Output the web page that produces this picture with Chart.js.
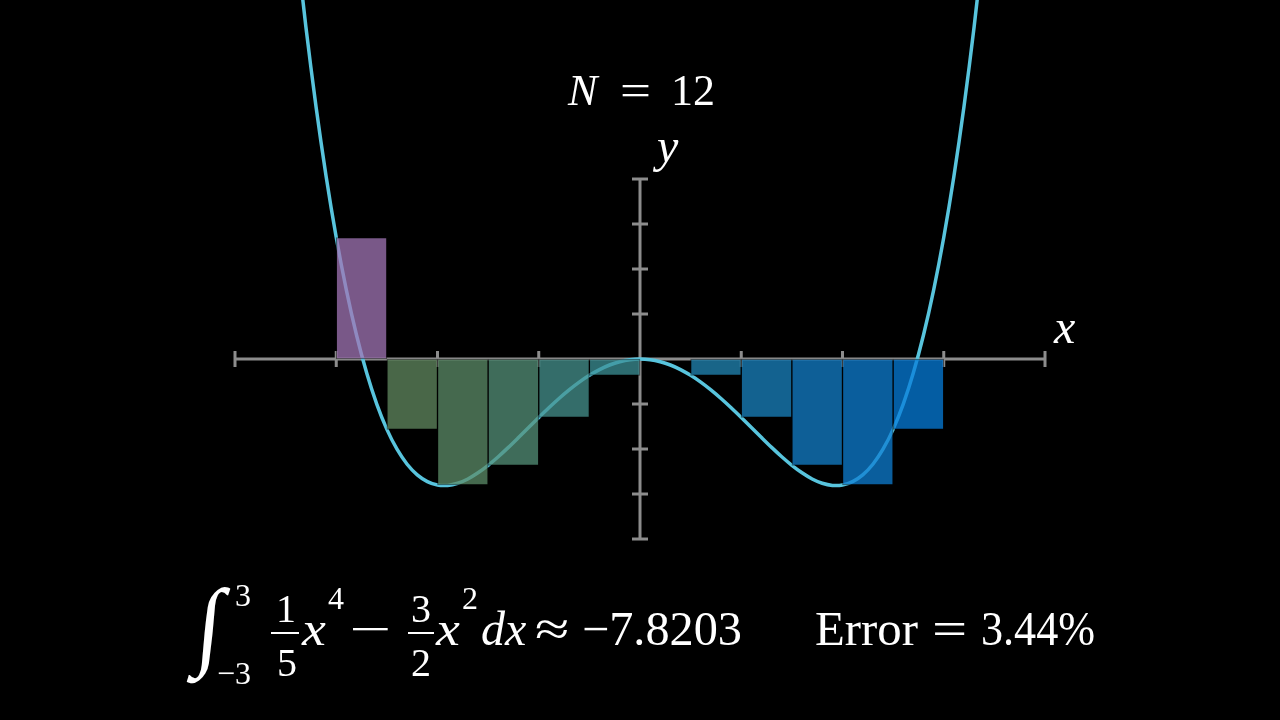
<!DOCTYPE html>
<html>
<head>
<meta charset="utf-8">
<script src="https://cdn.jsdelivr.net/npm/chart.js@4.4.1/dist/chart.umd.min.js"></script>
<style>
  html, body { margin: 0; padding: 0; background: #000; }
  #wrap { position: relative; width: 1280px; height: 720px; overflow: hidden; background: #000; }
  #chart { position: absolute; left: 0; top: 0; }
  #labels { position: absolute; left: 0; top: 0; }
  #labels text { fill: #fff; font-family: 'Liberation Serif', 'Times New Roman', serif; }
  #labels .it { font-style: italic; }
</style>
</head>
<body>
<div id="wrap">
  <canvas id="chart" width="1280" height="720"></canvas>
  <svg id="labels" width="1280" height="720">
    <!-- title -->
    <text class="it" x="568" y="105" font-size="44">N</text>
    <text transform="translate(620,105) scale(1.25,1)" font-size="44">=</text>
    <text x="671" y="105" font-size="44">12</text>

    <!-- axis labels -->
    <text class="it" x="657" y="162" font-size="48">y</text>
    <text class="it" x="1054" y="343" font-size="48">x</text>

    <!-- integral formula -->
    <text transform="translate(194,657) scale(0.95,1.02) skewX(-6)" font-size="96">∫</text>
    <text x="235" y="606" font-size="32">3</text>
    <text x="217" y="684" font-size="32">−3</text>

    <text x="286" y="622" font-size="40" text-anchor="middle">1</text>
    <line x1="271" x2="299" y1="633" y2="633" stroke="#fff" stroke-width="2"/>
    <text x="287" y="676" font-size="40" text-anchor="middle">5</text>
    <text class="it" transform="translate(302,645) scale(1.12,1)" font-size="48">x</text>
    <text x="328" y="609" font-size="32">4</text>
    <text transform="translate(349,645) scale(1.55,1)" font-size="48">−</text>

    <text x="421" y="622" font-size="40" text-anchor="middle">3</text>
    <line x1="408" x2="434" y1="633" y2="633" stroke="#fff" stroke-width="2"/>
    <text x="421" y="676" font-size="40" text-anchor="middle">2</text>
    <text class="it" transform="translate(436,645) scale(1.12,1)" font-size="48">x</text>
    <text x="462" y="609" font-size="32">2</text>
    <text class="it" x="481" y="645" font-size="48">dx</text>
    <text transform="translate(535,645) scale(1.3,1)" font-size="48">≈</text>
    <text x="582" y="645" font-size="48" textLength="160" lengthAdjust="spacingAndGlyphs">−7.8203</text>

    <text x="815" y="645" font-size="48" textLength="103" lengthAdjust="spacingAndGlyphs">Error</text>
    <text transform="translate(932,645) scale(1.3,1)" font-size="48">=</text>
    <text x="981" y="645" font-size="48" textLength="114" lengthAdjust="spacingAndGlyphs">3.44%</text>
  </svg>
</div>
<script>
// Riemann sum, left endpoints, N = 12 on [-3, 3]
const rectLeft = [-3, -2.5, -2, -1.5, -1, -0.5, 0, 0.5, 1, 1.5, 2, 2.5];
const rectWidth = 0.5;
const rectHeight = [2.7, -1.5625, -2.8, -2.3625, -1.3, -0.3625, 0, -0.3625, -1.3, -2.3625, -2.8, -1.5625];
const rectColors = [
  'rgba(162, 118, 182, 0.75)',
  'rgba(98, 138, 96, 0.75)',
  'rgba(92, 140, 104, 0.75)',
  'rgba(84, 144, 120, 0.75)',
  'rgba(70, 146, 142, 0.75)',
  'rgba(60, 144, 150, 0.75)',
  'rgba(40, 139, 178, 0.75)',
  'rgba(34, 135, 182, 0.75)',
  'rgba(26, 131, 192, 0.75)',
  'rgba(19, 127, 201, 0.75)',
  'rgba(13, 125, 209, 0.75)',
  'rgba(5, 124, 218, 0.75)'
];

const curveX = [
  -3.4, -3.3, -3.2, -3.1, -3.0, -2.9, -2.8, -2.7, -2.6, -2.5, -2.4, -2.3, -2.2, -2.1, -2.0, -1.9, -1.8,
  -1.7, -1.6, -1.5, -1.4, -1.3, -1.2, -1.1, -1.0, -0.9, -0.8, -0.7, -0.6, -0.5, -0.4, -0.3, -0.2, -0.1,
  0,
  0.1, 0.2, 0.3, 0.4, 0.5, 0.6, 0.7, 0.8, 0.9, 1.0, 1.1, 1.2, 1.3, 1.4, 1.5, 1.6, 1.7,
  1.8, 1.9, 2.0, 2.1, 2.2, 2.3, 2.4, 2.5, 2.6, 2.7, 2.8, 2.9, 3.0, 3.1, 3.2, 3.3, 3.4
];
const curveY = [
  9.387, 7.383, 5.612, 4.055, 2.7, 1.531, 0.533, -0.306, -1.001, -1.563, -2.005, -2.338, -2.575, -2.725, -2.8, -2.809, -2.761,
  -2.665, -2.529, -2.363, -2.172, -1.964, -1.745, -1.522, -1.3, -1.084, -0.878, -0.687, -0.514, -0.363, -0.235, -0.133, -0.060, -0.015,
  0,
  -0.015, -0.060, -0.133, -0.235, -0.363, -0.514, -0.687, -0.878, -1.084, -1.3, -1.522, -1.745, -1.964, -2.172, -2.363, -2.529, -2.665,
  -2.761, -2.809, -2.8, -2.725, -2.575, -2.338, -2.005, -1.563, -1.001, -0.306, 0.533, 1.531, 2.7, 4.055, 5.612, 7.383, 9.387
];

// axes
const axisMin = -4;
const axisMax = 4;
const xTicks = [-4, -3, -2, -1, 1, 2, 3, 4];
const yTicks = [-4, -3, -2, -1, 1, 2, 3, 4];

// visible window (origin at 640,359; 101.25 px per x unit, 45 px per y unit)
const viewX = [-6.321, 6.321];
const viewY = [-8.022, 7.978];

const axisGrey = '#8c8c8c';

const ctx = document.getElementById('chart').getContext('2d');

new Chart(ctx, {
  type: 'scatter',
  data: {
    datasets: [
      {
        type: 'bar',
        label: 'rects',
        data: rectLeft.map((x, i) => ({ x: x + rectWidth / 2, y: rectHeight[i] })),
        backgroundColor: rectColors,
        borderColor: 'rgba(0, 0, 0, 0.5)',
        borderWidth: 1,
        borderSkipped: false,
        barPercentage: 1,
        categoryPercentage: 1,
        order: 0
      },
      {
        type: 'line',
        label: 'curve',
        data: curveX.map((x, i) => ({ x, y: curveY[i] })),
        borderColor: '#58c4dd',
        borderWidth: 3.5,
        pointRadius: 0,
        tension: 0.3,
        fill: false,
        order: 1
      },
      {
        type: 'line',
        label: 'x axis',
        data: [{ x: axisMin, y: 0 }, { x: axisMax, y: 0 }],
        borderColor: axisGrey,
        borderWidth: 3,
        pointRadius: 0,
        order: 2
      },
      {
        type: 'line',
        label: 'y axis',
        data: [{ x: 0, y: axisMin }, { x: 0, y: axisMax }],
        borderColor: axisGrey,
        borderWidth: 3,
        pointRadius: 0,
        order: 2
      },
      {
        label: 'x ticks',
        data: xTicks.map(x => ({ x, y: 0 })),
        pointStyle: 'line',
        rotation: 90,
        pointRadius: 8,
        pointBorderWidth: 3,
        pointBorderColor: axisGrey,
        order: 2
      },
      {
        label: 'y ticks',
        data: yTicks.map(y => ({ x: 0, y })),
        pointStyle: 'line',
        rotation: 0,
        pointRadius: 8,
        pointBorderWidth: 3,
        pointBorderColor: axisGrey,
        order: 2
      }
    ]
  },
  options: {
    responsive: false,
    animation: false,
    events: [],
    devicePixelRatio: 1,
    layout: { padding: 0, autoPadding: false },
    plugins: {
      legend: { display: false },
      tooltip: { enabled: false },
      title: { display: false }
    },
    scales: {
      x: {
        type: 'linear',
        display: false,
        min: viewX[0],
        max: viewX[1],
        offset: false,
        ticks: { stepSize: 1, includeBounds: false }
      },
      y: {
        type: 'linear',
        display: false,
        min: viewY[0],
        max: viewY[1],
        ticks: { stepSize: 1, includeBounds: false }
      }
    }
  }
});
</script>
</body>
</html>
